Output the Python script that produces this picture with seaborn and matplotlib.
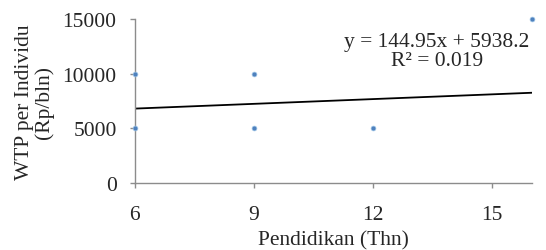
import matplotlib
matplotlib.use("Agg")
import matplotlib.pyplot as plt
import numpy as np
import pandas as pd
import seaborn as sns

# data
pendidikan = [6, 6, 9, 9, 12, 16]
wtp = [5000, 10000, 5000, 10000, 5000, 15000]
slope = 144.95
intercept = 5938.2
r2 = 0.019

sns.set_style("white")
plt.rcParams['font.family'] = ['Liberation Serif', 'DejaVu Serif']

df = pd.DataFrame({"x": pendidikan, "y": wtp})
trend_x = np.array([min(pendidikan), max(pendidikan)])
trend = pd.DataFrame({"x": trend_x, "y": slope * trend_x + intercept})

fig = plt.figure(figsize=(5.46, 2.51), dpi=100)
ax = fig.add_axes([0.247, 0.267, 0.727, 0.653])

sns.lineplot(data=trend, x="x", y="y", ax=ax, color="black", linewidth=1.3)
sns.scatterplot(data=df, x="x", y="y", ax=ax, color="#4F81BD", s=12,
                edgecolor="#9DC3E6", linewidth=0.5, zorder=3, clip_on=False)

fs = 15.5
ax.set_xlim(6, 16)
ax.set_ylim(0, 15000)
ax.set_xticks([6, 9, 12, 15])
ax.set_yticks([0, 5000, 10000, 15000])
for s in ["top", "right"]:
    ax.spines[s].set_visible(False)
for s in ["left", "bottom"]:
    ax.spines[s].set_color("#8c8c8c")
    ax.spines[s].set_linewidth(1.0)
ax.tick_params(axis="both", direction="out", length=3.6, width=1.0,
               color="#8c8c8c", labelsize=fs, bottom=True, left=True)
ax.tick_params(axis="x", pad=12)
ax.tick_params(axis="y", pad=9.5)
ax.set_xlabel("Pendidikan (Thn)", fontsize=fs, labelpad=5)
ax.set_ylabel("WTP per Individu\n(Rp/bln)", fontsize=fs, linespacing=1.0, labelpad=6)

ax.text(0.761, 0.805, f"y = {slope}x + {intercept}\nR\u00b2 = {r2}",
        transform=ax.transAxes, ha="center", va="center", fontsize=fs,
        linespacing=1.05, multialignment="center")

fig.savefig("out.png", dpi=100)
